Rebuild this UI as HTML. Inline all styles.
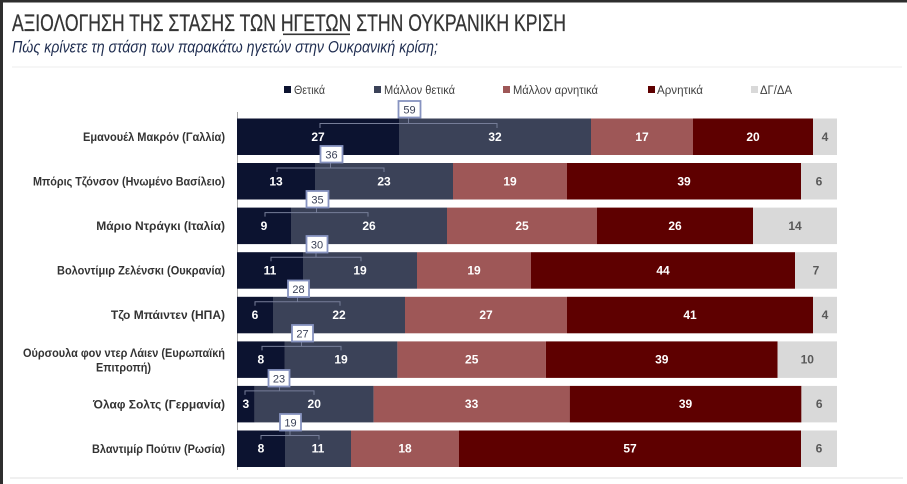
<!DOCTYPE html>
<html>
<head>
<meta charset="utf-8">
<style>
html,body{margin:0;padding:0;background:#fff;}
svg{display:block;}
text{font-family:"Liberation Sans",Arial,sans-serif;}
</style>
</head>
<body>
<svg width="907" height="484" viewBox="0 0 907 484" xmlns="http://www.w3.org/2000/svg">
<rect x="0" y="0" width="907" height="484" fill="#ffffff"/>
<!-- frame -->
<rect x="0" y="0" width="907" height="2.5" fill="#2e2e2e"/>
<rect x="0" y="0" width="3" height="484" fill="#2e2e2e"/>

<!-- title -->
<text x="12" y="31" font-size="24.5" fill="#353535" stroke="#353535" stroke-width="0.3" textLength="554" lengthAdjust="spacingAndGlyphs">ΑΞΙΟΛΟΓΗΣΗ ΤΗΣ ΣΤΑΣΗΣ ΤΩΝ ΗΓΕΤΩΝ ΣΤΗΝ ΟΥΚΡΑΝΙΚΗ ΚΡΙΣΗ</text>
<rect x="283" y="33.5" width="67" height="1.6" fill="#353535"/>
<text x="12" y="52.5" font-size="17" font-style="italic" fill="#1f2d50" textLength="426" lengthAdjust="spacingAndGlyphs">Πώς κρίνετε τη στάση των παρακάτω ηγετών στην Ουκρανική κρίση;</text>
<rect x="12" y="66.5" width="890" height="1" fill="#ececec"/>

<!-- legend -->
<g font-size="11.5" fill="#404040">
<rect x="284" y="86" width="7" height="7" fill="#0c1330"/>
<text x="294" y="94" textLength="31" lengthAdjust="spacingAndGlyphs">Θετικά</text>
<rect x="374" y="86" width="7" height="7" fill="#3b4258"/>
<text x="384" y="94" textLength="71" lengthAdjust="spacingAndGlyphs">Μάλλον θετικά</text>
<rect x="503" y="86" width="7" height="7" fill="#9e5757"/>
<text x="513" y="94" textLength="85" lengthAdjust="spacingAndGlyphs">Μάλλον αρνητικά</text>
<rect x="648" y="86" width="7" height="7" fill="#5e0000"/>
<text x="657" y="94" textLength="46" lengthAdjust="spacingAndGlyphs">Αρνητικά</text>
<rect x="751" y="86" width="7" height="7" fill="#d9d9d9"/>
<text x="760" y="94" textLength="32" lengthAdjust="spacingAndGlyphs">ΔΓ/ΔΑ</text>
</g>

<!-- axis -->
<rect x="237" y="112" width="1" height="358" fill="#a6a6a6"/>

<!-- row labels -->
<g font-size="12" font-weight="bold" fill="#333333" text-anchor="end">
<text x="225" y="141" textLength="142" lengthAdjust="spacingAndGlyphs">Εμανουέλ Μακρόν (Γαλλία)</text>
<text x="225" y="185.5" textLength="192" lengthAdjust="spacingAndGlyphs">Μπόρις Τζόνσον (Ηνωμένο Βασίλειο)</text>
<text x="225" y="230">Μάριο Ντράγκι (Ιταλία)</text>
<text x="225" y="274.5" textLength="168" lengthAdjust="spacingAndGlyphs">Βολοντίμιρ Ζελένσκι (Ουκρανία)</text>
<text x="225" y="319">Τζο Μπάιντεν (ΗΠΑ)</text>
<text x="225" y="357" textLength="202" lengthAdjust="spacingAndGlyphs">Ούρσουλα φον ντερ Λάιεν (Ευρωπαϊκή</text>
<text x="151" y="371.5" textLength="55" lengthAdjust="spacingAndGlyphs">Επιτροπή)</text>
<text x="225" y="408.5">Όλαφ Σολτς (Γερμανία)</text>
<text x="225" y="453" textLength="133" lengthAdjust="spacingAndGlyphs">Βλαντιμίρ Πούτιν (Ρωσία)</text>
</g>

<!-- bars -->
<g>
<rect x="237" y="118.5" width="162" height="36.5" fill="#0c1330"/>
<rect x="399" y="118.5" width="192" height="36.5" fill="#3b4258"/>
<rect x="591" y="118.5" width="102" height="36.5" fill="#9e5757"/>
<rect x="693" y="118.5" width="120" height="36.5" fill="#5e0000"/>
<rect x="813" y="118.5" width="24" height="36.5" fill="#d9d9d9"/>

<rect x="237" y="163" width="78" height="36.5" fill="#0c1330"/>
<rect x="315" y="163" width="138" height="36.5" fill="#3b4258"/>
<rect x="453" y="163" width="114" height="36.5" fill="#9e5757"/>
<rect x="567" y="163" width="234" height="36.5" fill="#5e0000"/>
<rect x="801" y="163" width="36" height="36.5" fill="#d9d9d9"/>

<rect x="237" y="207.6" width="54" height="36.5" fill="#0c1330"/>
<rect x="291" y="207.6" width="156" height="36.5" fill="#3b4258"/>
<rect x="447" y="207.6" width="150" height="36.5" fill="#9e5757"/>
<rect x="597" y="207.6" width="156" height="36.5" fill="#5e0000"/>
<rect x="753" y="207.6" width="84" height="36.5" fill="#d9d9d9"/>

<rect x="237" y="252.2" width="66" height="36.5" fill="#0c1330"/>
<rect x="303" y="252.2" width="114" height="36.5" fill="#3b4258"/>
<rect x="417" y="252.2" width="114" height="36.5" fill="#9e5757"/>
<rect x="531" y="252.2" width="264" height="36.5" fill="#5e0000"/>
<rect x="795" y="252.2" width="42" height="36.5" fill="#d9d9d9"/>

<rect x="237" y="296.8" width="36" height="36.5" fill="#0c1330"/>
<rect x="273" y="296.8" width="132" height="36.5" fill="#3b4258"/>
<rect x="405" y="296.8" width="162" height="36.5" fill="#9e5757"/>
<rect x="567" y="296.8" width="246" height="36.5" fill="#5e0000"/>
<rect x="813" y="296.8" width="24" height="36.5" fill="#d9d9d9"/>

<rect x="237" y="341.4" width="47.5" height="36.5" fill="#0c1330"/>
<rect x="284.5" y="341.4" width="112.9" height="36.5" fill="#3b4258"/>
<rect x="397.4" y="341.4" width="148.5" height="36.5" fill="#9e5757"/>
<rect x="545.9" y="341.4" width="231.7" height="36.5" fill="#5e0000"/>
<rect x="777.6" y="341.4" width="59.4" height="36.5" fill="#d9d9d9"/>

<rect x="237" y="385.9" width="17.8" height="36.5" fill="#0c1330"/>
<rect x="254.8" y="385.9" width="118.8" height="36.5" fill="#3b4258"/>
<rect x="373.6" y="385.9" width="196.1" height="36.5" fill="#9e5757"/>
<rect x="569.7" y="385.9" width="231.7" height="36.5" fill="#5e0000"/>
<rect x="801.4" y="385.9" width="35.6" height="36.5" fill="#d9d9d9"/>

<rect x="237" y="430.5" width="48" height="36.5" fill="#0c1330"/>
<rect x="285" y="430.5" width="66" height="36.5" fill="#3b4258"/>
<rect x="351" y="430.5" width="108" height="36.5" fill="#9e5757"/>
<rect x="459" y="430.5" width="342" height="36.5" fill="#5e0000"/>
<rect x="801" y="430.5" width="36" height="36.5" fill="#d9d9d9"/>
</g>

<!-- value labels -->
<g font-size="12" font-weight="bold" fill="#ffffff" text-anchor="middle">
<text x="318" y="141">27</text><text x="495" y="141">32</text><text x="642" y="141">17</text><text x="753" y="141">20</text>
<text x="276" y="185.5">13</text><text x="384" y="185.5">23</text><text x="510" y="185.5">19</text><text x="684" y="185.5">39</text>
<text x="264" y="230">9</text><text x="369" y="230">26</text><text x="522" y="230">25</text><text x="675" y="230">26</text>
<text x="270" y="274.5">11</text><text x="360" y="274.5">19</text><text x="474" y="274.5">19</text><text x="663" y="274.5">44</text>
<text x="255" y="319">6</text><text x="339" y="319">22</text><text x="486" y="319">27</text><text x="690" y="319">41</text>
<text x="260.8" y="363.5">8</text><text x="341" y="363.5">19</text><text x="471.7" y="363.5">25</text><text x="661.8" y="363.5">39</text>
<text x="245.9" y="408">3</text><text x="314.2" y="408">20</text><text x="471.6" y="408">33</text><text x="685.5" y="408">39</text>
<text x="261" y="452.5">8</text><text x="318" y="452.5">11</text><text x="405" y="452.5">18</text><text x="630" y="452.5">57</text>
</g>
<g font-size="12" font-weight="bold" fill="#595959" text-anchor="middle">
<text x="825" y="141">4</text>
<text x="819" y="185.5">6</text>
<text x="795" y="230">14</text>
<text x="816" y="274.5">7</text>
<text x="825" y="319">4</text>
<text x="807.3" y="363.5">10</text>
<text x="819.2" y="408">6</text>
<text x="819" y="452.5">6</text>
</g>

<!-- brackets -->
<g stroke="#767d98" stroke-width="1" fill="none">
<path d="M320 128V123.5H497V128 M408.5 123.5V118.5"/>
<path d="M277 172V168H384V172 M330.5 168V163"/>
<path d="M265 216.6V212.6H368V216.6 M316.5 212.6V207.6"/>
<path d="M271 261.2V257.2H361V261.2 M316 257.2V252.2"/>
<path d="M255 305.8V301.8H340V305.8 M297.5 301.8V296.8"/>
<path d="M262 350.4V346.4H341V350.4 M301.5 346.4V341.4"/>
<path d="M245 394.9V390.9H314V394.9 M279.5 390.9V385.9"/>
<path d="M261 439.5V435.5H319V439.5 M290 435.5V430.5"/>
</g>

<!-- callout boxes -->
<g fill="#ffffff" stroke="#8793c0" stroke-width="1.8">
<rect x="398.5" y="101" width="22" height="16.5"/>
<rect x="320.5" y="146" width="22" height="16.5"/>
<rect x="306.5" y="191" width="22" height="16.5"/>
<rect x="306.5" y="236" width="21" height="16.5"/>
<rect x="288" y="280.5" width="21" height="16.5"/>
<rect x="292" y="325" width="21" height="16.5"/>
<rect x="268.5" y="370" width="21" height="16.5"/>
<rect x="280" y="414" width="21" height="16.5"/>
</g>
<g font-size="11" fill="#3b4258" text-anchor="middle">
<text x="409.5" y="113.5">59</text>
<text x="331.5" y="158.5">36</text>
<text x="317.5" y="203.5">35</text>
<text x="317" y="248.5">30</text>
<text x="298.5" y="293">28</text>
<text x="302.5" y="337.5">27</text>
<text x="279" y="382.5">23</text>
<text x="290.5" y="426.5">19</text>
</g>

<!-- bottom line -->
<rect x="10" y="477.5" width="893" height="1" fill="#e2e2e2"/>
</svg>
</body>
</html>
